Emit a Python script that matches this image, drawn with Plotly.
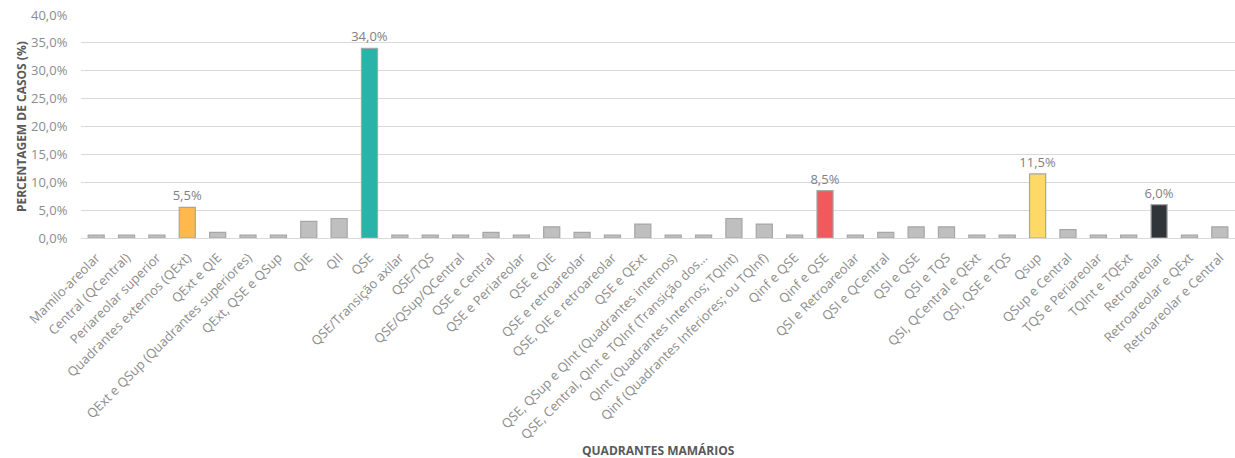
import plotly.graph_objects as go

categories = [
    "Mamilo-areolar", "Central (QCentral)", "Periareolar superior",
    "Quadrantes externos (QExt)", "QExt e QIE", "QExt e QSup (Quadrantes superiores)",
    "QExt, QSE e QSup", "QIE", "QII", "QSE", "QSE/Transição axilar", "QSE/TQS",
    "QSE/QSup/QCentral", "QSE e Central", "QSE e Periareolar", "QSE e QIE",
    "QSE e retroareolar", "QSE, QIE e retroareolar", "QSE e QExt",
    "QSE, QSup e QInt (Quadrantes internos)",
    "QSE, Central, QInt e TQInf (Transição dos...",
    "QInt (Quadrantes Internos; TQInt)", "Qinf (Quadrantes Inferiores; ou TQInf)",
    "Qinf e QSE", "Qinf e QSE", "QSI e Retroareolar", "QSI e QCentral", "QSI e QSE",
    "QSI e TQS", "QSI, QCentral e QExt", "QSI, QSE e TQS", "Qsup", "QSup e Central",
    "TQS e Periareolar", "TQInt e TQExt", "Retroareolar", "Retroareolar e QExt",
    "Retroareolar e Central",
]
values = [
    0.5, 0.5, 0.5, 5.5, 1.0, 0.5, 0.5, 3.0, 3.5, 34.0, 0.5, 0.5, 0.5, 1.0, 0.5, 2.0,
    1.0, 0.5, 2.5, 0.5, 0.5, 3.5, 2.5, 0.5, 8.5, 0.5, 1.0, 2.0, 2.0, 0.5, 0.5, 11.5,
    1.5, 0.5, 0.5, 6.0, 0.5, 2.0,
]
# highlighted bars: index -> colour
highlight_colors = {
    3: "#FFB84B",
    9: "#2AB3A8",
    24: "#F05A5C",
    31: "#FFD966",
    35: "#2F3538",
}
ytick_vals = [0, 5, 10, 15, 20, 25, 30, 35, 40]
ytick_text = [f"{v:.1f}".replace(".", ",") + "%" for v in ytick_vals]

grey = "#BFBFBF"
colors, labels = [], []
for i, v in enumerate(values):
    col = highlight_colors.get(i)
    if col is None:
        colors.append(grey)
        labels.append("")
    else:
        colors.append(col)
        labels.append(f"{v:.1f}".replace(".", ",") + "%")

x = list(range(len(categories)))

fig = go.Figure(go.Bar(
    x=x, y=values, width=0.53,
    marker=dict(color=colors, line=dict(color="#A6A6A6", width=1.2)),
    text=labels, textposition="outside", cliponaxis=False, constraintext="none",
    textfont=dict(family="Open Sans", size=13, color="#7F7F7F"),
))

fig.update_layout(
    width=1235, height=458,
    margin=dict(l=81, r=0, t=15, b=220),
    paper_bgcolor="white", plot_bgcolor="white",
    showlegend=False,
    font=dict(family="Open Sans", color="#808080"),
    xaxis=dict(
        range=[-0.5, len(categories) - 0.5],
        tickmode="array", tickvals=x, ticktext=categories,
        tickangle=-45, tickfont=dict(size=13, color="#8C8C8C"),
        showgrid=False, zeroline=False, showline=False,
        ticks="outside", ticklen=6, tickcolor="rgba(0,0,0,0)",
        automargin=False,
    ),
    yaxis=dict(
        range=[0, 40], tickmode="array", tickvals=ytick_vals, ticktext=ytick_text,
        tickfont=dict(size=13, color="#8C8C8C"),
        showgrid=True, gridcolor="#D9D9D9", gridwidth=1.3,
        zeroline=True, zerolinecolor="#D9D9D9", zerolinewidth=1.3,
        ticks="outside", ticklen=10, tickcolor="rgba(0,0,0,0)",
        showline=False, automargin=False,
    ),
    annotations=[
        dict(text="<b>PERCENTAGEM DE CASOS (%)</b>", xref="paper", yref="paper",
             x=-0.0515, y=0.5, xanchor="center", yanchor="middle", textangle=-90,
             showarrow=False, font=dict(family="Open Sans", size=12, color="#595959")),
        dict(text="<b>QUADRANTES MAMÁRIOS</b>", xref="paper", yref="paper",
             x=0.5, y=-0.954, xanchor="center", yanchor="middle",
             showarrow=False, font=dict(family="Open Sans", size=12, color="#595959")),
    ],
)

fig.write_html("out.html", config={"displayModeBar": False},
               post_script="document.body.style.margin='0';document.body.style.overflow='hidden';")
